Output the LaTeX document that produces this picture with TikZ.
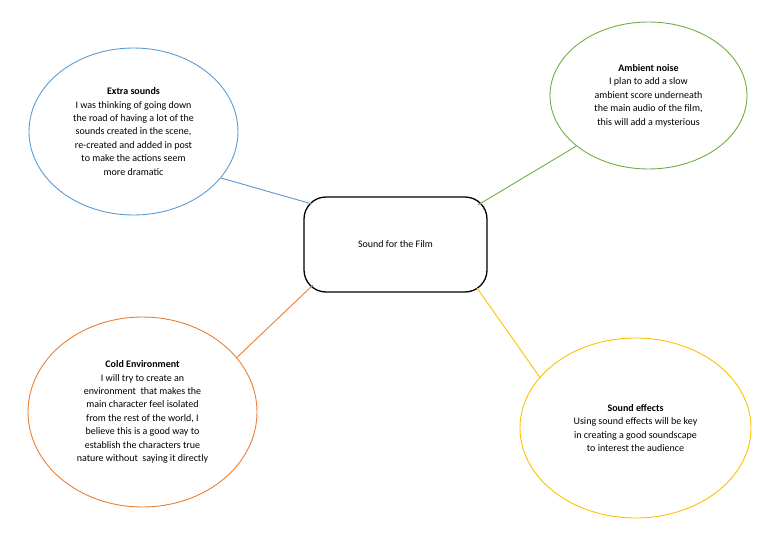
\documentclass[tikz,border=0pt]{standalone}
\usepackage{fontspec}
\setmainfont{Carlito}
\usetikzlibrary{shapes.geometric}
\definecolor{mapblue}{HTML}{5B9BD5}
\definecolor{mapgreen}{HTML}{70AD47}
\definecolor{maporange}{HTML}{ED7D31}
\definecolor{mapyellow}{HTML}{FFC000}
\begin{document}
\begin{tikzpicture}[x=1pt,y=-1pt,
		bubble/.style={ellipse,draw,line width=0.9pt,inner sep=0pt,align=center,font=\fontsize{10}{13.4}\selectfont},
		hub/.style={rectangle,rounded corners=22pt,draw=black,line width=1.3pt,minimum width=183pt,minimum height=95pt,font=\fontsize{10}{13.4}\selectfont},
		link/.style={line width=0.9pt}]
				\useasboundingbox (0,0) rectangle (768,543);
				% Mitte
				\node[hub] (film) at (395.5,244.5) {Sound for the Film};
				% die vier Blasen
				\node[bubble,draw=mapblue,minimum width=209pt,minimum height=167pt] (extra) at (133.5,131.5) {\textbf{Extra sounds}\\I was thinking of going down\\the road of having a lot of the\\sounds created in the scene,\\re-created and added in post\\to make the actions seem\\more dramatic};
				\node[bubble,draw=mapgreen,minimum width=197pt,minimum height=147pt] (ambient) at (648.5,95.5) {\textbf{Ambient noise}\\I plan to add a slow\\ambient score underneath\\the main audio of the film,\\this will add a mysterious};
				\node[bubble,draw=maporange,minimum width=229pt,minimum height=190pt] (cold) at (142.5,412) {\textbf{Cold Environment}\\I will try to create an\\environment \ that makes the\\main character feel isolated\\from the rest of the world, I\\believe this is a good way to\\establish the characters true\\nature without \ saying it directly};
				\node[bubble,draw=mapyellow,minimum width=231pt,minimum height=180pt] (effects) at (635.5,428) {\textbf{Sound effects}\\Using sound effects will be key\\in creating a good soundscape\\to interest the audience};
				% Verbindungen
				\draw[link,mapblue] (extra.-28.2) -- ([shift={(-83.5,-40.5)}]film.center);
				\draw[link,mapgreen] (ambient.-145.1) -- ([shift={(82.5,-39.5)}]film.center);
				\draw[link,maporange] (cold.30.7) -- ([shift={(-82.5,40.5)}]film.center);
				\draw[link,mapyellow] (effects.152.1) -- ([shift={(81.5,43.5)}]film.center);
			\end{tikzpicture}
\end{document}
